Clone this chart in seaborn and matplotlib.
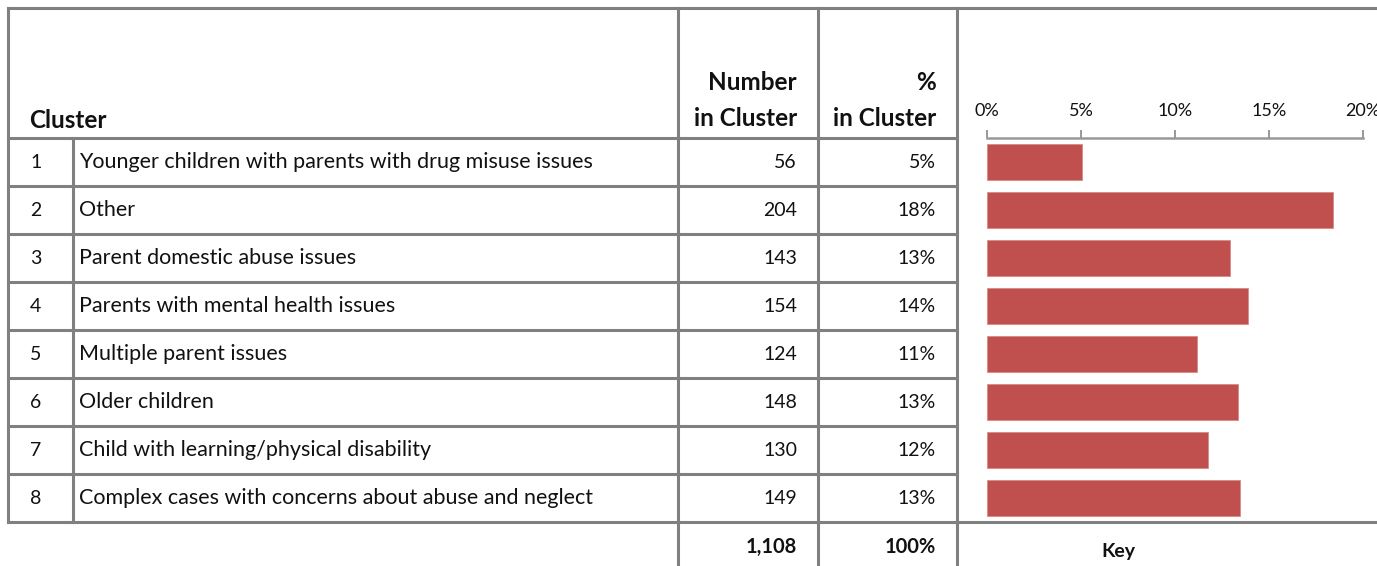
import numpy as np
import pandas as pd
import matplotlib
matplotlib.use('Agg')
import matplotlib.pyplot as plt
import seaborn as sns

# Cluster table data
cluster_ids = ['1', '2', '3', '4', '5', '6', '7', '8']
cluster_names = [
    'Younger children with parents with drug misuse issues',
    'Other',
    'Parent domestic abuse issues',
    'Parents with mental health issues',
    'Multiple parent issues',
    'Older children',
    'Child with learning/physical disability',
    'Complex cases with concerns about abuse and neglect',
]
counts = [56, 204, 143, 154, 124, 148, 130, 149]
pct_labels = ['5%', '18%', '13%', '14%', '11%', '13%', '12%', '13%']
total_label = '1,108'
total_pct_label = '100%'
tick_vals = [0, 5, 10, 15, 20]
tick_labels = ['0%', '5%', '10%', '15%', '20%']

data = pd.DataFrame({'cluster': cluster_ids, 'count': counts})
data['share'] = data['count'] / data['count'].sum() * 100

sns.set_theme(style='white')
plt.rcParams['font.family'] = ['Lato', 'DejaVu Sans']

W, H = 1377, 566
fig = plt.figure(figsize=(W / 100, H / 100), dpi=100)

# Full-figure axes in pixel coordinates for the table grid and text
ax0 = fig.add_axes([0, 0, 1, 1])
ax0.set_xlim(0, W)
ax0.set_ylim(H, 0)
ax0.axis('off')

grid_col = '#808080'
lw = 2.2
row_top = 138
row_h = 48
rows_bottom = row_top + row_h * len(cluster_ids)

# horizontal lines
ax0.plot([8, W], [8, 8], color=grid_col, lw=lw, solid_capstyle='projecting')
for i in range(len(cluster_ids)):
    y = row_top + row_h * i
    ax0.plot([8, 957], [y, y], color=grid_col, lw=lw, solid_capstyle='projecting')
ax0.plot([8, W], [rows_bottom, rows_bottom], color=grid_col, lw=lw, solid_capstyle='projecting')

# vertical lines
ax0.plot([8, 8], [8, rows_bottom], color=grid_col, lw=lw, solid_capstyle='projecting')
ax0.plot([73, 73], [row_top, rows_bottom], color=grid_col, lw=lw, solid_capstyle='projecting')
for x in [678, 818, 957]:
    ax0.plot([x, x], [8, H + 5], color=grid_col, lw=lw, solid_capstyle='projecting')

fs_name = 15.5
fs_num = 14
fs_head = 17.5
txt = '#111111'
# header
ax0.text(29, 121, 'Cluster', fontsize=fs_head, fontweight='bold', va='center', ha='left', color=txt)
ax0.text(797, 83, 'Number', fontsize=fs_head, fontweight='bold', va='center', ha='right', color=txt)
ax0.text(797, 118, 'in Cluster', fontsize=fs_head, fontweight='bold', va='center', ha='right', color=txt)
ax0.text(936, 83, '%', fontsize=fs_head, fontweight='bold', va='center', ha='right', color=txt)
ax0.text(936, 118, 'in Cluster', fontsize=fs_head, fontweight='bold', va='center', ha='right', color=txt)

# rows
for i, (cid, name, n, p) in enumerate(zip(cluster_ids, cluster_names, counts, pct_labels)):
    y = row_top + row_h * i + row_h / 2
    ax0.text(30, y, cid, fontsize=fs_num, va='center', ha='left', color=txt)
    ax0.text(79, y, name, fontsize=fs_name, va='center', ha='left', color=txt)
    ax0.text(797, y, str(n), fontsize=fs_num, va='center', ha='right', color=txt)
    ax0.text(936, y, p, fontsize=fs_num, va='center', ha='right', color=txt)

# totals
ax0.text(797, 547, total_label, fontsize=14.5, fontweight='bold', va='center', ha='right', color=txt)
ax0.text(936, 547, total_pct_label, fontsize=14.5, fontweight='bold', va='center', ha='right', color=txt)
ax0.text(1118, 552, 'Key', fontsize=14, fontweight='bold', va='center', ha='center', color=txt)

# bar chart aligned with the rows
bx0, bx1 = 987, 1363
ax1 = fig.add_axes([bx0 / W, (H - rows_bottom) / H, (bx1 - bx0) / W, (rows_bottom - row_top) / H])
sns.barplot(data=data, x='share', y='cluster', orient='h', color='#C0504D',
            saturation=1, width=0.75, edgecolor='#D98A88', linewidth=0.6, ax=ax1)
ax1.set_xlim(0, 20)
ax1.set_ylim(len(cluster_ids) - 0.5, -0.5)
ax1.patch.set_alpha(0)
ax1.set_xlabel('')
ax1.set_ylabel('')
ax1.set_yticks([])
ax1.xaxis.tick_top()
ax1.set_xticks(tick_vals)
ax1.set_xticklabels(tick_labels, fontsize=13, color=txt)
ax1.tick_params(axis='x', direction='out', length=6, width=1.4, color='#999999', pad=8)
for s in ['bottom', 'left', 'right']:
    ax1.spines[s].set_visible(False)
ax1.spines['top'].set_color('#999999')
ax1.spines['top'].set_linewidth(1.8)

fig.savefig('out.png', dpi=100)
